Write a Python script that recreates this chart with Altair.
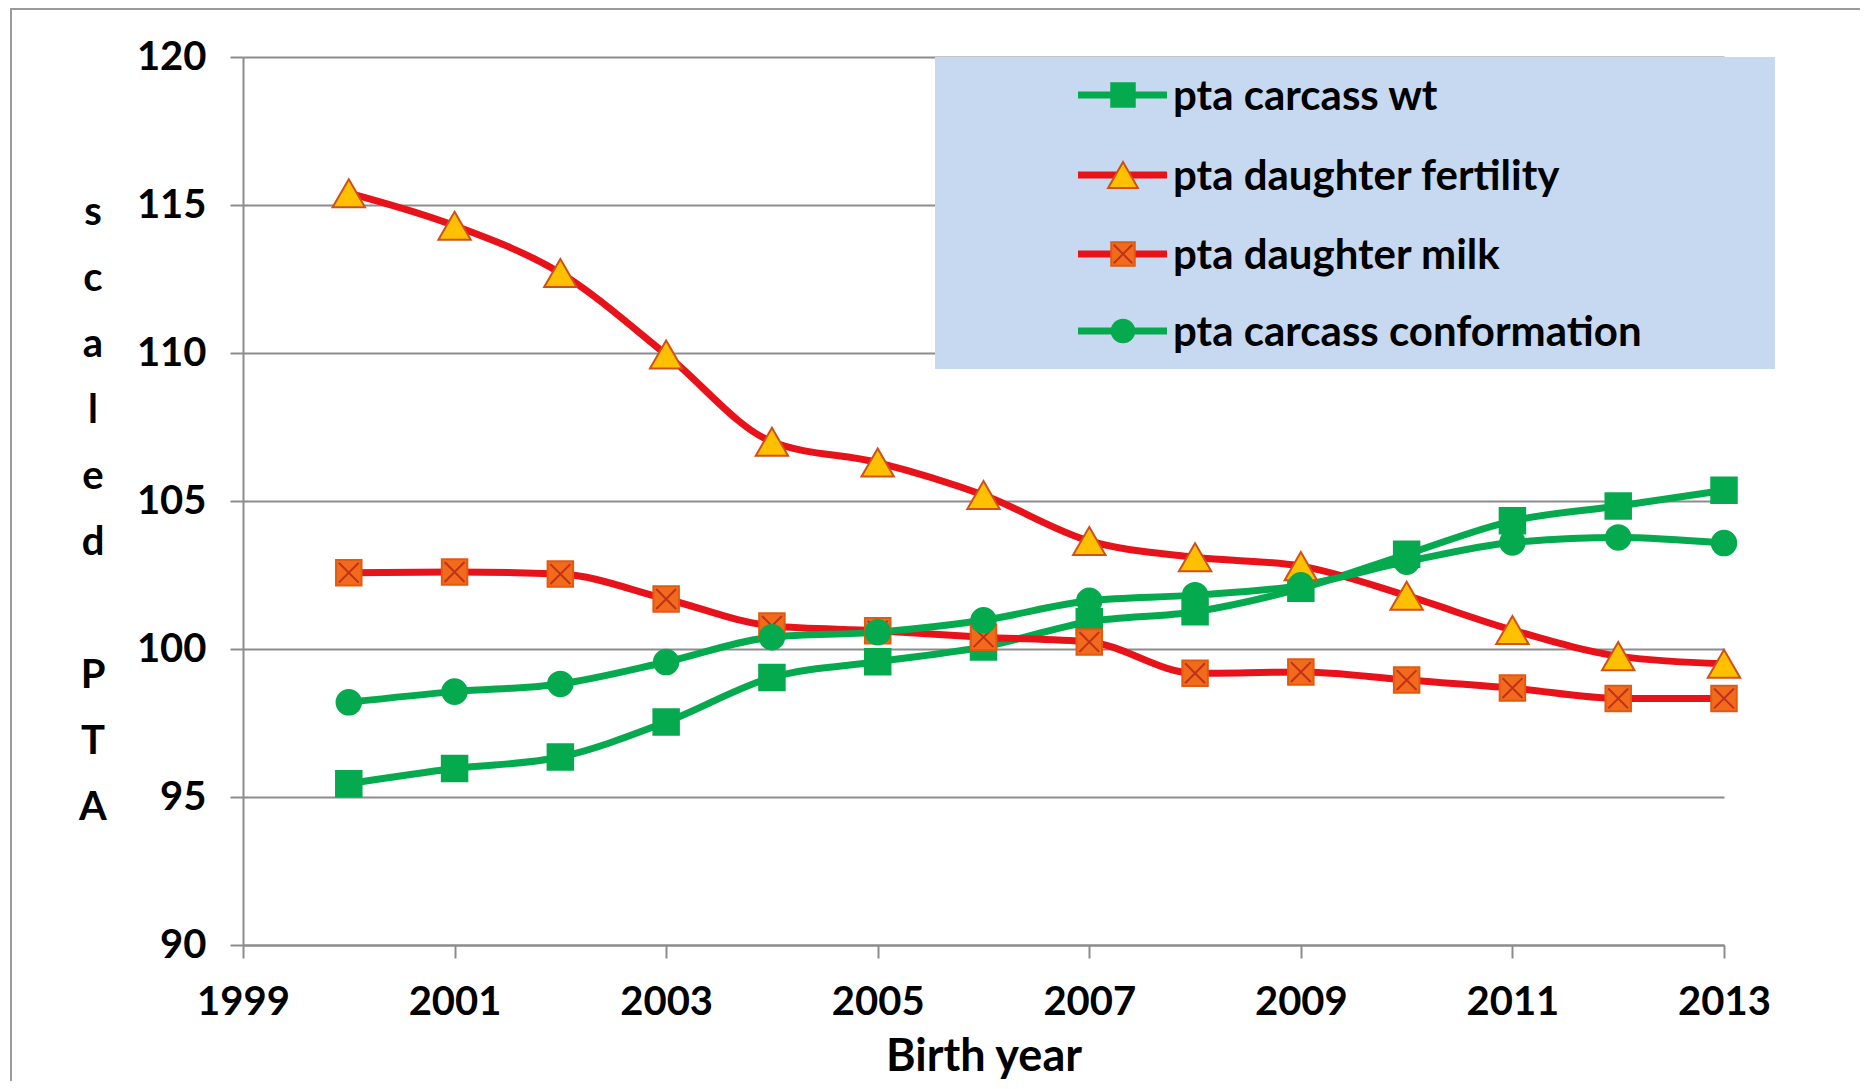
import altair as alt
import pandas as pd

years = list(range(2000, 2014))
series = ["pta carcass wt", "pta daughter fertility", "pta daughter milk", "pta carcass conformation"]
carcass_wt = [95.45, 95.96, 96.35, 97.53, 99.04, 99.57, 100.07, 100.92, 101.26, 102.05, 103.2, 104.33, 104.83, 105.36]
fertility = [115.4, 114.3, 112.7, 109.95, 107.0, 106.3, 105.2, 103.65, 103.1, 102.8, 101.8, 100.64, 99.76, 99.5]
milk = [102.58, 102.6, 102.53, 101.69, 100.78, 100.62, 100.4, 100.24, 99.18, 99.22, 98.95, 98.68, 98.33, 98.33]
conformation = [98.2, 98.56, 98.82, 99.56, 100.4, 100.57, 100.97, 101.63, 101.82, 102.15, 102.95, 103.6, 103.77, 103.58]
x_ticks = [1999, 2001, 2003, 2005, 2007, 2009, 2011, 2013]
y_ticks = [90, 95, 100, 105, 110, 115, 120]

values = [carcass_wt, fertility, milk, conformation]
rows = []
for s, vals in zip(series, values):
    for y, v in zip(years, vals):
        rows.append({"year": y, "value": v, "series": s})
df = pd.DataFrame(rows)

GREEN = "#05aa4e"
RED = "#e8121b"
line_colors = [GREEN, RED, RED, GREEN]
shapes = ["square", "triangle-up", "square", "circle"]
fills = [GREEN, "#ffc000", "#f26b1d", GREEN]
strokes = [GREEN, "#d0501a", "#e05a10", GREEN]
sizes = [650, 1050, 650, 600]
XPATH = "M-0.8,-0.8L0.8,0.8M0.8,-0.8L-0.8,0.8"

FONT = "Lato"
FS = 40
W, H = 1481, 888

xenc = alt.X("year:Q", scale=alt.Scale(domain=[1999, 2013], nice=False, zero=False),
             axis=alt.Axis(values=x_ticks, format="d", grid=False, labelFontSize=FS,
                           labelFontWeight="bold", labelColor="black", labelPadding=24,
                           labelFlush=False,
                           tickSize=13, tickColor="#8c8c8c", tickWidth=2,
                           domainColor="#8c8c8c", domainWidth=2,
                           title="Birth year", titleFontSize=45, titleFontWeight="bold",
                           titleColor="black", titleBaseline="alphabetic", titleY=125))
yenc = alt.Y("value:Q", scale=alt.Scale(domain=[90, 120], nice=False, zero=False),
             axis=alt.Axis(values=y_ticks, grid=True, gridColor="#8c8c8c", gridWidth=2,
                           labelFontSize=FS, labelFontWeight="bold", labelColor="black",
                           labelPadding=24, tickSize=13, tickColor="#8c8c8c", tickWidth=2,
                           domainColor="#8c8c8c", domainWidth=2, title=None))

base = alt.Chart(df)

lines = base.mark_line(interpolate="monotone", strokeWidth=7).encode(
    x=xenc, y=yenc,
    color=alt.Color("series:N", scale=alt.Scale(domain=series, range=line_colors), legend=None),
    detail="series:N",
)

point_layers = []
for i, s in enumerate(series):
    point_layers.append(
        base.transform_filter(alt.datum.series == s).mark_point(
            shape=shapes[i], filled=True, fill=fills[i], stroke=strokes[i],
            strokeWidth=2, size=sizes[i], opacity=1
        ).encode(x="year:Q", y="value:Q")
    )
    if s == "pta daughter milk":
        point_layers.append(
            base.transform_filter(alt.datum.series == s).mark_point(
                shape=XPATH, filled=False, stroke="#c0301a", strokeWidth=2,
                size=620, opacity=1
            ).encode(x="year:Q", y="value:Q")
        )

# vertical y-axis title, letter by letter
one = pd.DataFrame({"a": [0]})
ytitle1 = alt.Chart(one).mark_text(
    align="center", baseline="alphabetic", fontSize=FS, fontWeight="bold",
    color="black", lineHeight=66, font=FONT
).encode(x=alt.value(-150), y=alt.value(168),
         text=alt.value(["s", "c", "a", "l", "e", "d"]))
ytitle2 = alt.Chart(one).mark_text(
    align="center", baseline="alphabetic", fontSize=FS, fontWeight="bold",
    color="black", lineHeight=66, font=FONT
).encode(x=alt.value(-150), y=alt.value(631),
         text=alt.value(["P", "T", "A"]))

# frame around whole chart
frame = alt.Chart(one).mark_rect(
    fillOpacity=0, stroke="#9a9a9a", strokeWidth=2
).encode(x=alt.value(-232), x2=alt.value(1621), y=alt.value(-48), y2=alt.value(1040))

# legend
LX0, LX1, LY0, LY1 = 692, 1532, 0, 312
row_y = [38, 118, 197, 274]
legend_bg = alt.Chart(one).mark_rect(fill="#c6d9f0").encode(
    x=alt.value(LX0), x2=alt.value(LX1), y=alt.value(LY0), y2=alt.value(LY1))

legend_layers = [legend_bg]
for i, s in enumerate(series):
    ldf = pd.DataFrame({"series": [s]})
    lc = alt.Chart(ldf)
    legend_layers.append(lc.mark_rule(stroke=line_colors[i], strokeWidth=7).encode(
        x=alt.value(835), x2=alt.value(924), y=alt.value(row_y[i])))
    legend_layers.append(lc.mark_point(shape=shapes[i], filled=True, fill=fills[i],
                                       stroke=strokes[i], strokeWidth=2, size=sizes[i] * 0.85,
                                       opacity=1).encode(
        x=alt.value(880), y=alt.value(row_y[i])))
    if s == "pta daughter milk":
        legend_layers.append(lc.mark_point(shape=XPATH, filled=False, stroke="#c0301a",
                                           strokeWidth=2, size=540, opacity=1).encode(
            x=alt.value(880), y=alt.value(row_y[i])))
    legend_layers.append(lc.mark_text(align="left", baseline="middle", fontSize=42,
                                      fontWeight="bold", color="black", font=FONT).encode(
        x=alt.value(930), y=alt.value(row_y[i] + 2), text="series:N"))

chart = alt.layer(lines, *point_layers, ytitle1, ytitle2, frame, *legend_layers).properties(
    width=W, height=H,
    autosize=alt.AutoSizeParams(type="none"),
    padding={"left": 235, "top": 49, "right": 136, "bottom": 136},
).configure(font=FONT).configure_view(stroke=None)

chart.save("out.html", embed_options={"renderer": "svg", "actions": False})
